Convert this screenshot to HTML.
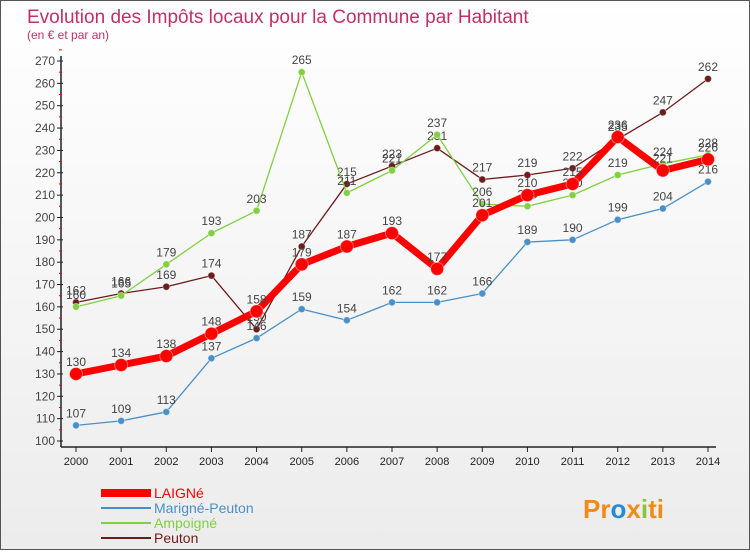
<!DOCTYPE html>
<html><head><meta charset="utf-8"><style>
body{margin:0;width:750px;height:550px;overflow:hidden;font-family:"Liberation Sans",sans-serif}
#wrap{position:relative;width:748px;height:548px;border:1px solid #555;background:linear-gradient(#fff,#ececec)}
</style></head><body>
<div id="wrap">
<svg id="c" width="748" height="548" xmlns="http://www.w3.org/2000/svg">
<text x="26" y="22" font-size="19" fill="#c0306a">Evolution des Impôts locaux pour la Commune par Habitant</text>
<text x="26" y="38" font-size="12" fill="#c0306a">(en € et par an)</text>
<g id="axes"></g><g id="series"></g><g id="legend"></g>
<text x="582" y="517" font-size="26" font-weight="bold" fill="#f08a1c">Pr<tspan fill="#2a8ad0">o</tspan>x<tspan fill="#8ac43c">i</tspan>ti</text>
</svg></div>
<script>
const years=[2000,2001,2002,2003,2004,2005,2006,2007,2008,2009,2010,2011,2012,2013,2014];
const yTicks=[100,110,120,130,140,150,160,170,180,190,200,210,220,230,240,250,260,270];
const laigne=[130,134,138,148,158,179,187,193,177,201,210,215,236,221,226];
const marigne=[107,109,113,137,146,159,154,162,162,166,189,190,199,204,216];
const ampoigne=[160,165,179,193,203,265,211,221,237,206,205,210,219,224,228];
const peuton=[162,166,169,174,150,187,215,223,231,217,219,222,235,247,262];
const NS="http://www.w3.org/2000/svg";
const X=i=>75+i*632/14, Y=v=>440-(v-100)*380/170;
function mk(t,a,p){const e=document.createElementNS(NS,t);for(const k in a)e.setAttribute(k,a[k]);p.appendChild(e);return e;}
const ax=document.getElementById('axes');
let l=mk('line',{x1:60,y1:55,x2:60,y2:446,stroke:'#222','stroke-width':1.5},ax);

l=mk('line',{x1:60,y1:446,x2:715,y2:446,stroke:'#222','stroke-width':1.5},ax);

yTicks.forEach(v=>{mk('line',{x1:56,y1:Y(v),x2:62,y2:Y(v),stroke:'#222'},ax);
mk('line',{x1:58,y1:Y(v+5),x2:61,y2:Y(v+5),stroke:'#e00'},ax);
const t=mk('text',{x:54,y:Y(v)+4,'text-anchor':'end','font-size':12,fill:'#444'},ax);t.textContent=v;
});
years.forEach((y,i)=>{mk('line',{x1:X(i),y1:446,x2:X(i),y2:451,stroke:'#222'},ax);
const t=mk('text',{x:X(i),y:464,'text-anchor':'middle','font-size':11,fill:'#222'},ax);t.textContent=y;
});
const sg=document.getElementById('series'),lg=document.getElementById('legend');
const S=[['peuton',peuton,'#6b1c1c',1.3,3.5,'Peuton'],['ampoigne',ampoigne,'#80d040',1.3,3.5,'Ampoigné'],['marigne',marigne,'#4a90c8',1.3,3.5,'Marigné-Peuton'],['laigne',laigne,'#ff0000',7,6.5,'LAIGNé']];
S.forEach(([id,d,c,w,r,name])=>{const g=mk('g',{},sg);

const p=mk('polyline',{points:d.map((v,i)=>X(i)+','+Y(v)).join(' '),fill:'none',stroke:c,'stroke-width':w,'stroke-linejoin':'round'},g);

d.forEach((v,i)=>{const ci=mk('circle',{cx:X(i),cy:Y(v),r:r,fill:c,stroke:'#fff','stroke-opacity':0.4},g);

const t=mk('text',{x:X(i),y:Y(v)-8,'text-anchor':'middle','font-size':12,fill:'#444'},g);t.textContent=v;
});});
const L=[['LAIGNé','#ff0000',8],['Marigné-Peuton','#4a90c8',2],['Ampoigné','#80d040',2],['Peuton','#6b1c1c',2]];
L.forEach(([n,c,w],k)=>{const yy=492+k*15;const g=mk('g',{},lg);

mk('line',{x1:100,y1:yy,x2:150,y2:yy,stroke:c,'stroke-width':w},g);
const t=mk('text',{x:153,y:yy+5,'font-size':14,fill:c},g);t.textContent=n;});
</script>
</body></html>
